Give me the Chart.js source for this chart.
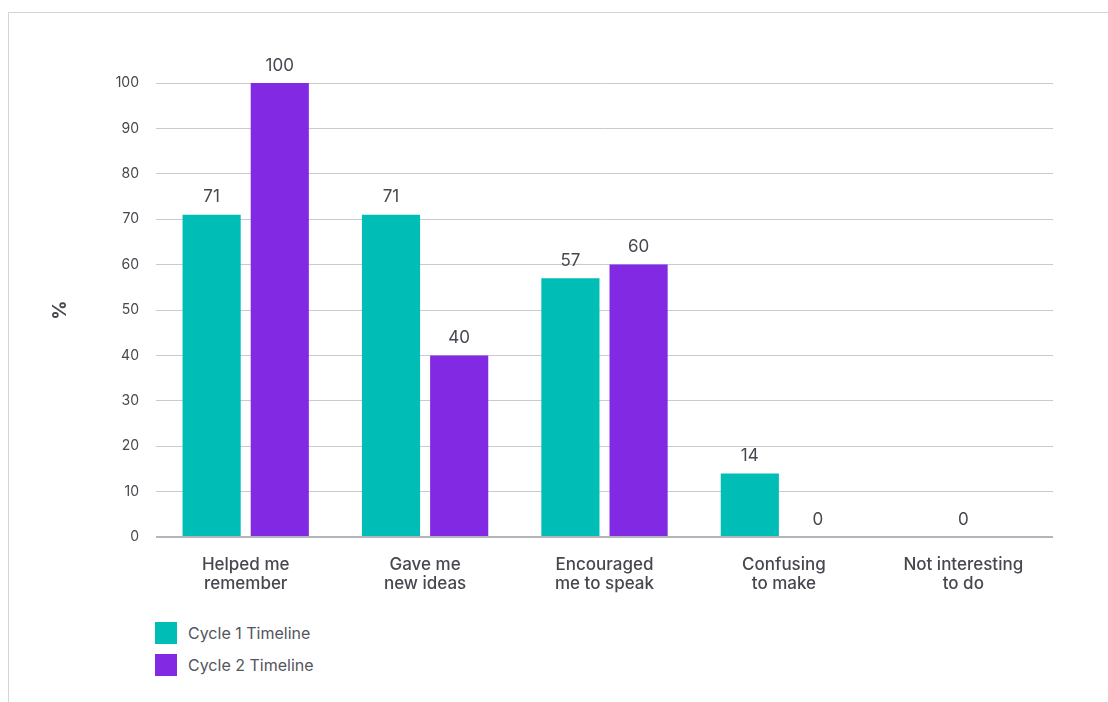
<!DOCTYPE html>
<html>
<head>
<meta charset="utf-8">
<script src="https://cdn.jsdelivr.net/npm/chart.js@4.4.0/dist/chart.umd.min.js"></script>
<style>
  body { margin: 0; background: #fff; font-family: Inter, sans-serif; }
  .frame {
    position: absolute; left: 8px; top: 12px; width: 1200px; height: 800px;
    border-top: 1px solid #d3d4d9; border-left: 1px solid #d3d4d9;
  }
  .chart-box { position: absolute; left: 0; top: 0; width: 1100px; height: 600px; }
  .legend { position: absolute; left: 146px; top: 604px; }
  .legend-item { display: flex; align-items: center; height: 32px; color: #55555d; font-size: 16px; }
  .legend-swatch { width: 22px; height: 22px; margin-right: 11px; }
</style>
</head>
<body>
<div class="frame">
  <div class="chart-box"><canvas id="feedbackChart"></canvas></div>
  <div class="legend" id="feedbackLegend"></div>
</div>
<script>
// chart data
const categories = [
  ['Helped me', 'remember'],
  ['Gave me', 'new ideas'],
  ['Encouraged', 'me to speak'],
  ['Confusing', 'to make'],
  ['Not interesting', 'to do']
];
const cycle1Values = [71, 71, 57, 14, null];
const cycle2Values = [100, 40, 60, 0, 0];
const seriesNames = ['Cycle 1 Timeline', 'Cycle 2 Timeline'];
const seriesColors = ['#00bdb5', '#8229e3'];
const yTicks = [0, 10, 20, 30, 40, 50, 60, 70, 80, 90, 100];

const textColor = '#47474f';

// draw value labels above each bar
const barValueLabels = {
  id: 'barValueLabels',
  afterDatasetsDraw(chart) {
    const ctx = chart.ctx;
    ctx.save();
    ctx.font = '400 17px Inter, sans-serif';
    ctx.fillStyle = textColor;
    ctx.textAlign = 'center';
    ctx.textBaseline = 'bottom';
    chart.data.datasets.forEach(function(ds, i) {
      const meta = chart.getDatasetMeta(i);
      meta.data.forEach(function(bar, j) {
        const v = ds.data[j];
        if (v === null || v === undefined) return;
        ctx.fillText(String(v), bar.x, bar.y - 9);
      });
    });
    ctx.restore();
  }
};

const chart = new Chart(document.getElementById('feedbackChart'), {
  type: 'bar',
  data: {
    labels: categories,
    datasets: [
      { label: seriesNames[0], data: cycle1Values, backgroundColor: seriesColors[0] },
      { label: seriesNames[1], data: cycle2Values, backgroundColor: seriesColors[1] }
    ]
  },
  options: {
    responsive: true,
    maintainAspectRatio: false,
    animation: false,
    layout: { padding: { top: 70, right: 56, left: 0, bottom: 0 } },
    datasets: {
      bar: { skipNull: true, categoryPercentage: 0.76, barPercentage: 0.853 }
    },
    plugins: {
      legend: { display: false },
      tooltip: { enabled: false }
    },
    scales: {
      x: {
        grid: { display: false, drawTicks: false },
        border: { display: false },
        ticks: {
          color: textColor,
          font: { family: 'Inter, sans-serif', size: 17, weight: '500', lineHeight: 1.12 },
          padding: 18,
          maxRotation: 0,
          autoSkip: false
        },
        afterFit(scale) { scale.height = 76; }
      },
      y: {
        min: 0,
        max: 100,
        afterBuildTicks(scale) { scale.ticks = yTicks.map(v => ({ value: v })); },
        grid: {
          drawTicks: false,
          color: ctx => ctx.tick && ctx.tick.value === 0 ? '#b4b4bc' : '#c9c9d3',
          lineWidth: ctx => ctx.tick && ctx.tick.value === 0 ? 2 : 1
        },
        border: { display: false },
        ticks: {
          color: textColor,
          font: { family: 'Inter, sans-serif', size: 14 },
          padding: 17
        },
        title: {
          display: true,
          text: '%',
          color: textColor,
          font: { family: 'Inter, sans-serif', size: 19, weight: '700' },
          padding: { top: 40, bottom: 0 }
        },
        afterFit(scale) { scale.width = 147; }
      }
    }
  },
  plugins: [barValueLabels]
});

// legend built from the chart's datasets
const legendEl = document.getElementById('feedbackLegend');
chart.data.datasets.forEach(function(ds) {
  const item = document.createElement('div');
  item.className = 'legend-item';
  const sw = document.createElement('span');
  sw.className = 'legend-swatch';
  sw.style.background = ds.backgroundColor;
  const label = document.createElement('span');
  label.textContent = ds.label;
  item.appendChild(sw);
  item.appendChild(label);
  legendEl.appendChild(item);
});
</script>
</body>
</html>
